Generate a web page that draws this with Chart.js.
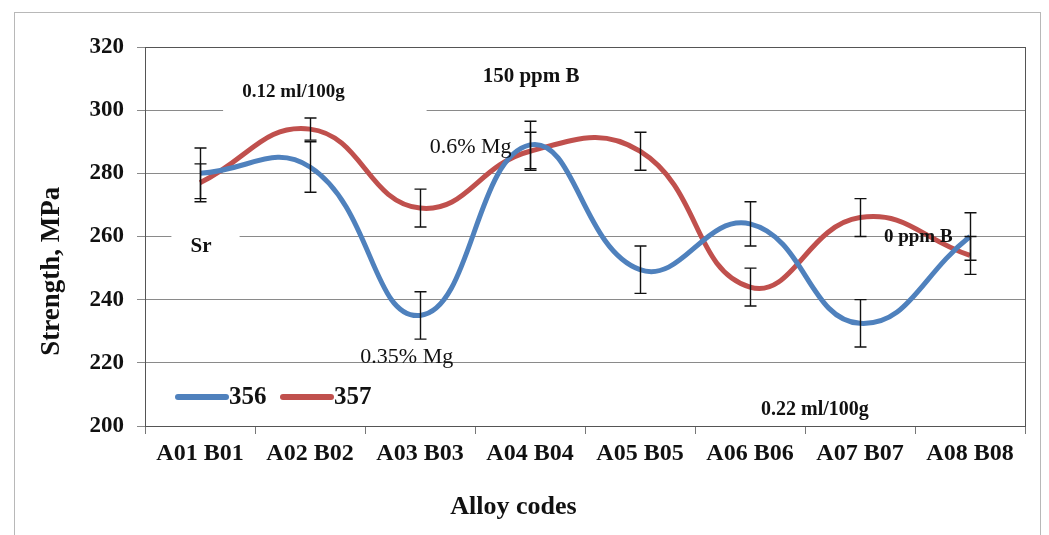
<!DOCTYPE html>
<html lang="en">
<head>
  <meta charset="UTF-8">
  <title>Strength by alloy code</title>
  <script src="https://cdn.jsdelivr.net/npm/chart.js"></script>
  <style>
    html, body {
      margin: 0;
      padding: 0;
      background: #fff;
    }
    #wrap {
      width: 1049px;
      height: 535px;
    }
  </style>
</head>
<body>
  <div id="wrap"><canvas id="chart" width="1049" height="535"></canvas></div>

  <script>
    // data
    const categories = ['A01 B01', 'A02 B02', 'A03 B03', 'A04 B04', 'A05 B05', 'A06 B06', 'A07 B07', 'A08 B08'];
    const s356 = [280, 282, 235, 289, 249.5, 264, 232.5, 260];
    const s356err = [8, 8, 7.5, 7.5, 7.5, 7, 7.5, 7.5];
    const s357 = [277, 294, 269, 287, 287, 244, 266, 254];
    const s357err = [6, 3.5, 6, 6, 6, 6, 6, 6];
    const yTicks = [200, 220, 240, 260, 280, 300, 320];

    const serif = '"Liberation Serif", "Times New Roman", serif';

    // text boxes on the plot (x in category units, y in MPa)
    const notes = [
      { text: '0.12 ml/100g', x: 0.85, y: 305.6, font: 'bold 19px ' + serif },
      { text: '150 ppm B', x: 3.01, y: 310.7, font: 'bold 21px ' + serif },
      { text: '0.6% Mg', x: 2.46, y: 288.2, font: '22px ' + serif },
      { text: '0.35% Mg', x: 1.88, y: 221.8, font: '22px ' + serif },
      { text: 'Sr', x: 0.01, y: 256.9, font: 'bold 21px ' + serif },
      { text: '0 ppm B', x: 6.53, y: 259.7, font: 'bold 19px ' + serif },
      { text: '0.22 ml/100g', x: 5.59, y: 205, font: 'bold 20px ' + serif }
    ];
    // white boxes that hide the gridlines behind some of the notes
    const masks = [
      { x0: 0.21, x1: 2.06, y0: 298, y1: 312 },
      { x0: -0.26, x1: 0.36, y0: 252, y1: 264 }
    ];

    const backdrop = {
      id: 'backdrop',
      beforeDraw(c) {
        const ctx = c.ctx;
        ctx.save();
        ctx.fillStyle = '#fff';
        ctx.fillRect(0, 0, c.width, c.height);
        ctx.strokeStyle = '#b8b8b8';
        ctx.lineWidth = 1;
        ctx.strokeRect(14.5, 12.5, 1026, 540);
        ctx.restore();
      },
      beforeDatasetsDraw(c) {
        const ctx = c.ctx, x = c.scales.x, y = c.scales.y, a = c.chartArea;
        ctx.save();
        ctx.fillStyle = '#fff';
        masks.forEach(m => {
          const l = Math.max(x.getPixelForValue(m.x0), a.left + 1), r = x.getPixelForValue(m.x1);
          const t = y.getPixelForValue(m.y1), b = y.getPixelForValue(m.y0);
          ctx.fillRect(l, t, r - l, b - t);
        });
        ctx.strokeStyle = '#555';
        ctx.lineWidth = 1;
        ctx.strokeRect(Math.round(a.left) + 0.5, Math.round(a.top) + 0.5, a.right - a.left, a.bottom - a.top);
        // axis titles
        ctx.fillStyle = '#111';
        ctx.textAlign = 'center';
        ctx.textBaseline = 'middle';
        ctx.font = 'bold 26px ' + serif;
        ctx.fillText('Alloy codes', x.getPixelForValue(2.85), 507);
        ctx.translate(52, y.getPixelForValue(249));
        ctx.rotate(-Math.PI / 2);
        ctx.font = 'bold 27px ' + serif;
        ctx.fillText('Strength, MPa', 0, 0);
        ctx.restore();
      },
      afterDatasetsDraw(c) {
        const ctx = c.ctx, x = c.scales.x, y = c.scales.y, a = c.chartArea;
        ctx.save();
        // error bars
        ctx.strokeStyle = '#111';
        ctx.lineWidth = 1.4;
        c.data.datasets.forEach(ds => {
          ds.data.forEach((v, i) => {
            const px = Math.round(x.getPixelForValue(i)) + 0.5;
            const top = y.getPixelForValue(v + ds.err[i]);
            const bot = y.getPixelForValue(v - ds.err[i]);
            ctx.beginPath();
            ctx.moveTo(px, top); ctx.lineTo(px, bot);
            ctx.moveTo(px - 6, top); ctx.lineTo(px + 6, top);
            ctx.moveTo(px - 6, bot); ctx.lineTo(px + 6, bot);
            ctx.stroke();
          });
        });
        // notes
        ctx.fillStyle = '#111';
        ctx.textAlign = 'center';
        ctx.textBaseline = 'middle';
        notes.forEach(n => {
          ctx.font = n.font;
          ctx.fillText(n.text, x.getPixelForValue(n.x), y.getPixelForValue(n.y));
        });
        // legend in the lower left of the plot
        let lx = a.left + 33;
        const ly = a.bottom - 29;
        ctx.font = 'bold 25px ' + serif;
        ctx.textAlign = 'left';
        ctx.lineCap = 'round';
        c.data.datasets.forEach(ds => {
          ctx.strokeStyle = ds.borderColor;
          ctx.lineWidth = 6;
          ctx.beginPath();
          ctx.moveTo(lx, ly); ctx.lineTo(lx + 48, ly);
          ctx.stroke();
          ctx.fillText(ds.label, lx + 51, ly + 1);
          lx += 105;
        });
        ctx.restore();
      }
    };

    const tickFont = { family: serif, weight: 'bold', size: 24 };

    new Chart(document.getElementById('chart'), {
      type: 'line',
      data: {
        labels: categories,
        datasets: [
          { label: '356', data: s356, err: s356err, borderColor: '#4F81BD' },
          { label: '357', data: s357, err: s357err, borderColor: '#C0504D' }
        ]
      },
      options: {
        responsive: false,
        animation: false,
        layout: { padding: { left: 0, top: 47, right: 24, bottom: 0 } },
        elements: {
          line: { borderWidth: 5, tension: 0.45, cubicInterpolationMode: 'default', capBezierPoints: false },
          point: { radius: 0 }
        },
        plugins: {
          legend: { display: false },
          tooltip: { enabled: false }
        },
        scales: {
          x: {
            type: 'category',
            offset: true,
            grid: { offset: true, drawOnChartArea: false, drawTicks: true, tickLength: 8, color: '#777' },
            border: { display: false },
            ticks: { color: '#111', font: tickFont, padding: 5, maxRotation: 0, autoSkip: false },
            afterFit(s) { s.height = 109; }
          },
          y: {
            min: 200,
            max: 320,
            afterBuildTicks(s) { s.ticks = yTicks.map(v => ({ value: v })); },
            grid: { color: '#8a8a8a', lineWidth: 1, drawTicks: true, tickLength: 8 },
            border: { display: false },
            ticks: { color: '#111', font: { family: serif, weight: 'bold', size: 23 }, padding: 13 },
            afterFit(s) { s.width = 145; }
          }
        }
      },
      plugins: [backdrop]
    });
  </script>
</body>
</html>
